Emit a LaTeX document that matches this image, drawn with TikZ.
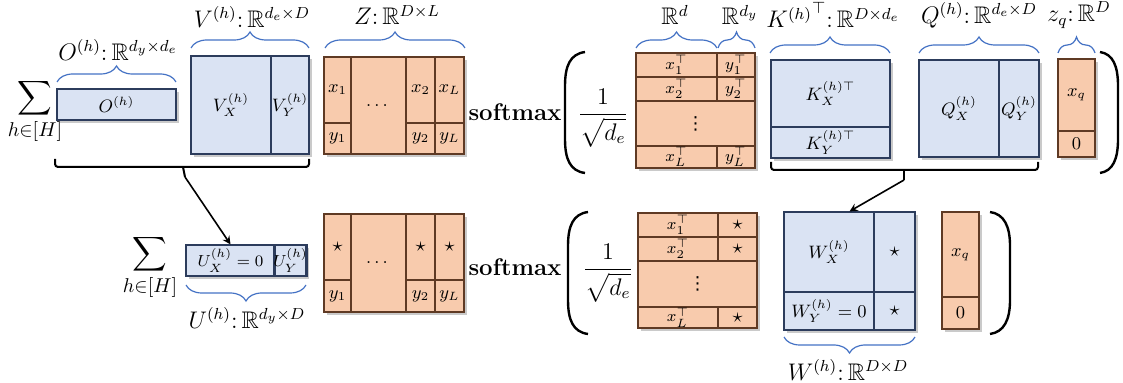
\documentclass[tikz,border=0pt]{standalone}
\usepackage{amsmath,amssymb}
\usepackage{fontspec}
\usepackage{xcolor}
\usetikzlibrary{arrows, shadows, decorations.pathreplacing}

\newfontfamily\dotsfont{DejaVu Sans}

\definecolor{cellblue}{RGB}{218,227,243}
\definecolor{edgeblue}{RGB}{44,60,92}
\definecolor{cellpeach}{RGB}{248,203,173}
\definecolor{edgebrown}{RGB}{95,58,36}
\definecolor{braceblue}{RGB}{68,114,196}

\begin{document}
\begin{tikzpicture}[
    x=0.5pt, y=-0.5pt,
    span/.style n args={4}{at={({(#1+#3)/2},{(#2+#4)/2})}, minimum width={(#3-#1)*0.5pt}, minimum height={(#4-#2)*0.5pt}},
    boxshadow/.style={drop shadow={shadow xshift=1.6pt, shadow yshift=-1.6pt, fill=black!60, opacity=0.35}},
    bluebox/.style={rectangle, draw=edgeblue, fill=cellblue, line width=0.6pt, inner sep=0pt, boxshadow, font=\small},
    peachbox/.style={rectangle, draw=edgebrown, fill=cellpeach, line width=0.6pt, inner sep=0pt, boxshadow, font=\small},
    bluecell/.style={rectangle, draw=edgeblue, line width=0.6pt, inner sep=0pt, font=\small},
    peachcell/.style={rectangle, draw=edgebrown, line width=0.6pt, inner sep=0pt, font=\small},
    rowcell/.style={peachcell, font=\footnotesize},
    starcell/.style={font=\normalsize},
    dimlabel/.style={font=\large, inner sep=1pt},
    bluebrace/.style={draw=braceblue, line width=0.6pt, decorate, decoration={brace, amplitude=8pt}},
    blackbrace/.style={draw=black, line width=1pt, rounded corners=1.5pt},
    paren/.style={draw=black, line width=1.2pt},
    arrow/.style={thick,->,>=stealth}
]
\useasboundingbox (0,0) rectangle (1123,383);

% ---------- top row ----------
\node[font=\large] (topsum) at (35,112) {$\displaystyle\sum_{\text{\normalsize$h{\in}[H]$}}$};

% O
\node[bluebox, span={57}{89}{176}{120}] (obox) {$O^{(h)}$};
\draw[bluebrace] (57,82) -- (176,82);
\node[dimlabel] (olabel) at (118,50) {$O^{(h)}{:}\,\mathbb{R}^{d_y\times d_e}$};

% V
\node[bluebox, span={191}{56}{309}{154}] (vbox) {};
\node[bluecell, span={191}{56}{271}{154}] (vx) {$V_X^{(h)}$};
\node[bluecell, span={271}{56}{309}{154}] (vy) {$V_Y^{(h)}$};
\draw[bluebrace] (191,48) -- (309,48);
\node[dimlabel] (vlabel) at (252,17) {$V^{(h)}{:}\,\mathbb{R}^{d_e\times D}$};

% bracket under O and V
\draw[blackbrace] (55,159) -- (55,167) -- (309,167) -- (309,159);
\coordinate (tipo) at (185,177);
\draw[blackbrace] (183,167) -- (tipo);

% Z
\node[peachbox, span={324}{57}{464}{154}] (ztop) {};
\node[peachcell, span={324}{57}{351}{123}] (zx1) {$x_1$};
\node[peachcell, span={324}{123}{351}{154}] (zy1) {$y_1$};
\node[peachcell, span={351}{57}{406}{154}] (zdots) {$\dots$};
\node[peachcell, span={406}{57}{435}{123}] (zx2) {$x_2$};
\node[peachcell, span={406}{123}{435}{154}] (zy2) {$y_2$};
\node[peachcell, span={435}{57}{464}{123}] (zxL) {$x_L$};
\node[peachcell, span={435}{123}{464}{154}] (zyL) {$y_L$};
\draw[bluebrace] (325,48) -- (465,48);
\node[dimlabel] (zlabel) at (397,15) {$Z{:}\,\mathbb{R}^{D\times L}$};

\node[font=\large\bfseries] (topsoft) at (515,112) {softmax};

% left paren and scale
\draw[paren] (585,52) .. controls (570,54) and (565,66) .. (565,86) -- (565,139) .. controls (565,159) and (570,171) .. (585,173);
\node[font=\large] (topfrac) at (603,118) {$\dfrac{1}{\sqrt{\mathstrut d_e}}$};

% Z transposed
\node[peachbox, span={636}{53}{755}{168}] (xtop) {};
\node[rowcell, span={636}{53}{717}{77}] (x1t) {$x_1^{\top}$};
\node[rowcell, span={717}{53}{755}{77}] (y1t) {$y_1^{\top}$};
\node[rowcell, span={636}{77}{717}{101}] (x2t) {$x_2^{\top}$};
\node[rowcell, span={717}{77}{755}{101}] (y2t) {$y_2^{\top}$};
\node[peachcell, span={636}{101}{755}{146}] (xdots) {\dotsfont ⋮};
\node[rowcell, span={636}{146}{717}{168}] (xLt) {$x_L^{\top}$};
\node[rowcell, span={717}{146}{755}{168}] (yLt) {$y_L^{\top}$};
\draw[bluebrace] (636,48) -- (717,48);
\draw[bluebrace] (718,48) -- (755,48);
\node[dimlabel] (rdlabel) at (675,15) {$\mathbb{R}^{d}$};
\node[dimlabel] (rdylabel) at (740,15) {$\mathbb{R}^{d_y}$};

% K
\node[bluebox, span={771}{60}{890}{158}] (ktop) {};
\node[bluecell, span={771}{60}{890}{127}] (kx) {$K_X^{(h)\top}$};
\node[bluecell, span={771}{127}{890}{158}] (ky) {$K_Y^{(h)\top}$};
\draw[bluebrace] (770,53) -- (890,53);
\node[dimlabel] (klabel) at (833,15) {${K^{(h)}}^{\top}{:}\,\mathbb{R}^{D\times d_e}$};

% Q
\node[bluebox, span={919}{60}{1039}{157}] (qtop) {};
\node[bluecell, span={919}{60}{999}{157}] (qx) {$Q_X^{(h)}$};
\node[bluecell, span={999}{60}{1039}{157}] (qy) {$Q_Y^{(h)}$};
\draw[bluebrace] (919,53) -- (1039,53);
\node[dimlabel] (qlabel) at (979,15) {$Q^{(h)}{:}\,\mathbb{R}^{d_e\times D}$};

% bracket under K and Q
\draw[blackbrace] (771,162) -- (771,170) -- (1038,170) -- (1038,162);
\coordinate (tipk) at (904,180);
\draw[blackbrace] (904,170) -- (tipk);

% z_q
\node[peachbox, span={1058}{59}{1095}{157}] (zqtop) {};
\node[peachcell, span={1058}{59}{1095}{131}] (xqtop) {$x_q$};
\node[peachcell, span={1058}{131}{1095}{157}] (zerotop) {$0$};
\draw[bluebrace] (1058,53) -- (1095,53);
\node[dimlabel] (zqlabel) at (1079,15) {$z_q{:}\,\mathbb{R}^{D}$};

\draw[paren] (1100,52) .. controls (1113,54) and (1118,66) .. (1118,86) -- (1118,139) .. controls (1118,159) and (1113,171) .. (1100,173);

% ---------- bottom row ----------
\node[font=\large] (botsum) at (150,268) {$\displaystyle\sum_{\text{\normalsize$h{\in}[H]$}}$};

% U
\node[bluebox, span={186}{245}{306}{276}] (ubox) {};
\node[bluecell, font=\footnotesize, span={186}{245}{275}{276}] (ux) {$U_X^{(h)}=0$};
\node[bluecell, font=\footnotesize, span={275}{245}{306}{276}] (uy) {$U_Y^{(h)}$};
\draw[bluebrace] (306,285) -- (186,285);
\node[dimlabel] (ulabel) at (247,318) {$U^{(h)}{:}\,\mathbb{R}^{d_y\times D}$};

% Z
\node[peachbox, span={324}{214}{464}{312}] (zbot) {};
\node[peachcell, starcell, span={324}{214}{351}{280}] (zs1) {$\star$};
\node[peachcell, span={324}{280}{351}{312}] (zb1) {$y_1$};
\node[peachcell, span={351}{214}{406}{312}] (zbdots) {$\dots$};
\node[peachcell, starcell, span={406}{214}{435}{280}] (zs2) {$\star$};
\node[peachcell, span={406}{280}{435}{312}] (zb2) {$y_2$};
\node[peachcell, starcell, span={435}{214}{464}{280}] (zsL) {$\star$};
\node[peachcell, span={435}{280}{464}{312}] (zbL) {$y_L$};

\node[font=\large\bfseries] (botsoft) at (515,267) {softmax};

\draw[paren] (588,212) .. controls (573,214) and (568,226) .. (568,246) -- (568,300) .. controls (568,320) and (573,332) .. (588,334);
\node[font=\large] (botfrac) at (608,273) {$\dfrac{1}{\sqrt{\mathstrut d_e}}$};

% Z transposed
\node[peachbox, span={638}{213}{757}{328}] (xbot) {};
\node[rowcell, span={638}{213}{718}{237}] (bx1t) {$x_1^{\top}$};
\node[rowcell, starcell, span={718}{213}{757}{237}] (bs1t) {$\star$};
\node[rowcell, span={638}{237}{718}{261}] (bx2t) {$x_2^{\top}$};
\node[rowcell, starcell, span={718}{237}{757}{261}] (bs2t) {$\star$};
\node[peachcell, span={638}{261}{757}{307}] (bxdots) {\dotsfont ⋮};
\node[rowcell, span={638}{307}{718}{328}] (bxLt) {$x_L^{\top}$};
\node[rowcell, starcell, span={718}{307}{757}{328}] (bsLt) {$\star$};

% W
\node[bluebox, span={784}{212}{915}{330}] (wbox) {};
\node[bluecell, span={784}{212}{874}{292}] (wx) {$W_X^{(h)}$};
\node[bluecell, starcell, span={874}{212}{915}{292}] (ws1) {$\star$};
\node[bluecell, span={784}{292}{874}{330}] (wy) {$W_Y^{(h)}=0$};
\node[bluecell, starcell, span={874}{292}{915}{330}] (ws2) {$\star$};
\draw[bluebrace] (915,337) -- (784,337);
\node[dimlabel] (wlabel) at (848,370) {$W^{(h)}{:}\,\mathbb{R}^{D\times D}$};

% z_q
\node[peachbox, span={942}{212}{979}{329}] (zqbot) {};
\node[peachcell, span={942}{212}{979}{297}] (xqbot) {$x_q$};
\node[peachcell, span={942}{297}{979}{329}] (zerobot) {$0$};

\draw[paren] (990,212) .. controls (1004,214) and (1010,226) .. (1010,246) -- (1010,300) .. controls (1010,320) and (1004,332) .. (990,334);

% Arrows
\draw[arrow] (tipo) -- (ux.north);
\draw[arrow] (tipk) -- (wbox.north);

\end{tikzpicture}
\end{document}
